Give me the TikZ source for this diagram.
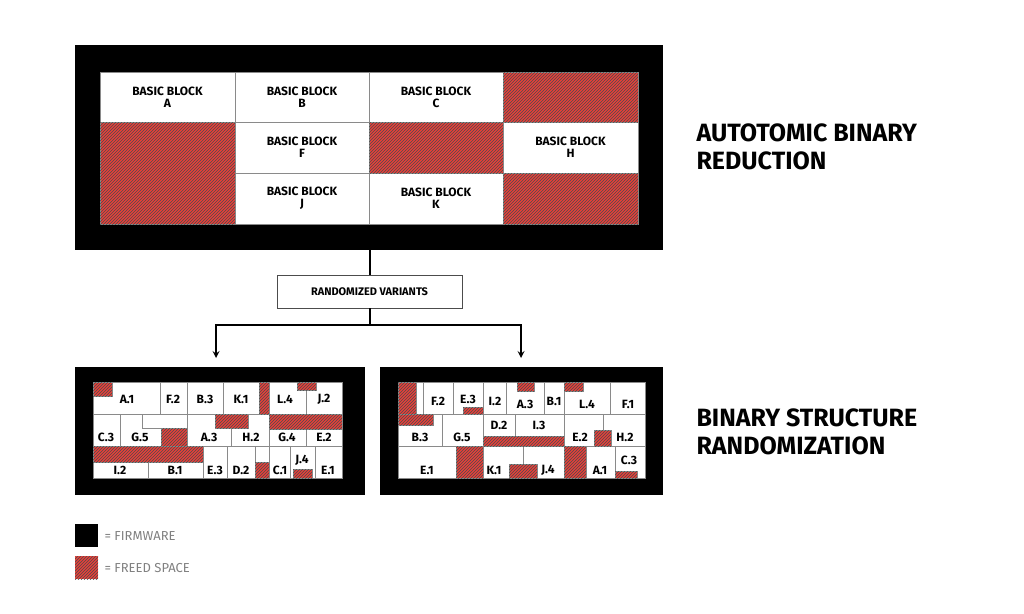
\documentclass[tikz,border=0pt]{standalone}
\usepackage{fontspec}
\setmainfont{Fira Sans}
\usetikzlibrary{patterns,positioning}
\definecolor{freedred}{HTML}{E8403A}
\definecolor{cellline}{HTML}{8A8A8A}
\tikzset{
  freed/.style={fill=freedred, postaction={pattern=north east lines, pattern color=black!70}},
  cellbox/.style={fill=white, draw=cellline, line width=0.7pt},
  lbl/.style={font=\fontsize{12}{12}\selectfont\bfseries, inner sep=0pt},
  bigtitle/.style={font=\fontsize{25}{28}\selectfont\bfseries, align=left, anchor=west},
  legendtxt/.style={font=\fontsize{13}{13}\selectfont, text=black!50, anchor=west}
}
\begin{document}
\begin{tikzpicture}[x=1pt, y=-1pt]
  \useasboundingbox (0,0) rectangle (1024,613);

  % firmware frames
  \fill (75,45) rectangle (663,250);
  \fill[white] (100,72) rectangle (638,224);
  \fill (75,367) rectangle (365,495);
  \fill[white] (93,382) rectangle (342,478);
  \fill (380,367) rectangle (663,495);
  \fill[white] (398,382) rectangle (645,478);

  % top blocks
  \foreach \xa/\ya/\xb/\yb/\name in {100/72/235/122/A, 235/72/369/122/B, 369/72/503/122/C,
      235/122/369/173/F, 503/122/638/173/H, 235/173/369/224/J, 369/173/503/224/K} {
    \draw[cellbox] (\xa,\ya) rectangle (\xb,\yb);
    \node[lbl, align=center] (bb\name) at ({(\xa+\xb)/2},{(\ya+\yb)/2}) {BASIC BLOCK\\\name};
  }
  \foreach \xa/\ya/\xb/\yb in {503/72/638/122, 100/122/235/224, 369/122/503/173, 503/173/638/224}
    \draw[freed, draw=cellline] (\xa,\ya) rectangle (\xb,\yb);

  \node[bigtitle] (title1) at (693,147) {AUTOTOMIC BINARY\\REDUCTION};
  \node[bigtitle] (title2) at (693,432) {BINARY STRUCTURE\\RANDOMIZATION};

  % variants
  \node[draw=black!70, fill=white, minimum width=185pt, minimum height=33pt, font=\fontsize{11}{11}\selectfont\bfseries]
    (variants) at (369.5,291.5) {RANDOMIZED VARIANTS};
  \coordinate (topframe) at (369.5,250);
  \coordinate (split) at (369.5,325);
  \coordinate (leftin) at (216,358);
  \coordinate (rightin) at (521,358);
  \draw[line width=2pt] (topframe) -- (variants.north);
  \draw[line width=2pt] (variants.south) -- (split);
  \draw[line width=2pt, -stealth] (split) -| (leftin);
  \draw[line width=2pt, -stealth] (split) -| (rightin);

  % left variant cells
  \foreach \xa/\ya/\xb/\yb/\lx/\ly/\txt in {
      93/382/160/414/127/399/A.1, 160/382/187/414/173/399/F.2, 187/382/223/414/205/399/B.3,
      223/382/259/414/241/399/K.1, 269/382/306/414/285/399/L.4, 306/382/342/414/324/399/J.2,
      93/414/120/446/106/437/C.3, 120/414/161/446/140/437/G.5, 142/414/187/428/0/0/,
      187/414/231/446/209/437/A.3, 231/414/269/446/251/437/H.2, 269/414/306/446/287/437/G.4,
      306/414/342/446/324/437/E.2,
      93/446/148/478/120/470/I.2, 148/446/203/478/175/470/B.1, 203/446/227/478/215/470/E.3,
      227/446/255/478/241/470/D.2, 255/446/269/462/0/0/, 269/446/290/478/280/470/C.1,
      290/446/315/478/302/460/J.4, 315/446/342/478/328/470/E.1} {
    \draw[cellbox] (\xa,\ya) rectangle (\xb,\yb);
    \node[lbl] at (\lx,\ly) {\txt};
  }
  \foreach \xa/\ya/\xb/\yb in {93/382/112/396, 259/382/269/414, 297/382/316/390,
      215/414/248/428, 269/414/342/429, 161/428/187/446, 93/446/203/462,
      255/462/269/478, 293/469/312/478}
    \draw[freed, draw=cellline] (\xa,\ya) rectangle (\xb,\yb);

  % right variant cells
  \foreach \xa/\ya/\xb/\yb/\lx/\ly/\txt in {
      416/382/423/414/0/0/, 423/382/453/414/438/401/F.2, 453/382/483/414/468/399/E.3,
      483/382/506/414/495/401/I.2, 506/382/544/414/525/404/A.3, 544/382/564/414/554/401/B.1,
      564/382/610/414/587/404/L.4, 610/382/645/414/628/404/F.1,
      398/414/442/446/420/437/B.3, 442/414/483/446/462/437/G.5, 483/414/515/436/499/425/D.2,
      515/414/564/436/539/425/I.3, 564/414/603/446/580/437/E.2, 603/414/645/446/625/437/H.2,
      398/446/456/478/427/470/E.1, 483/446/523/478/494/470/K.1, 523/446/564/478/548/470/J.4,
      586/446/615/478/600/470/A.1, 615/446/645/478/629/460/C.3} {
    \draw[cellbox] (\xa,\ya) rectangle (\xb,\yb);
    \node[lbl] at (\lx,\ly) {\txt};
  }
  \foreach \xa/\ya/\xb/\yb in {398/382/416/425, 398/414/433/425, 463/407/483/414,
      517/382/534/391, 564/382/583/391, 483/436/564/446, 594/430/611/446,
      456/446/483/478, 509/464/537/478, 564/446/586/478, 615/471/637/478}
    \draw[freed, draw=cellline] (\xa,\ya) rectangle (\xb,\yb);

  % legend
  \fill (75,524) rectangle (98,547);
  \node[legendtxt] (firmware) at (101,536) {= FIRMWARE};
  \draw[freed, draw=none] (75,556) rectangle (98,579);
  \node[legendtxt] (freedspace) at (101,568) {= FREED SPACE};
\end{tikzpicture}
\end{document}
